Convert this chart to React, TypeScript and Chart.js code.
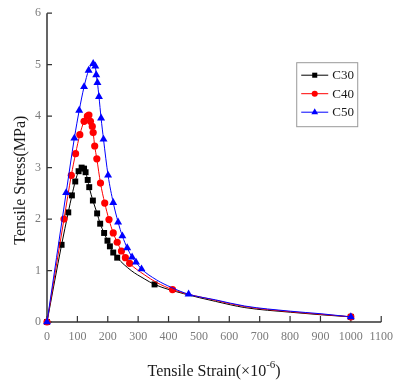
import React, { useEffect, useRef } from "react";
import { Chart, registerables } from "chart.js";

Chart.register(...registerables);

// C30 — marked data points
const c30Strain = [0, 48, 70, 82, 93, 104, 114, 122, 127, 134, 139, 151, 165, 175, 188, 199, 207, 218, 231, 354, 1000];
const c30Stress = [0, 1.5, 2.13, 2.46, 2.73, 2.93, 3.0, 2.98, 2.91, 2.76, 2.62, 2.36, 2.11, 1.91, 1.73, 1.58, 1.47, 1.35, 1.25, 0.73, 0.1];
// C30 — curve points (no marker)
const c30CurveStrain = [277, 320, 450, 555, 651, 801, 902];
const c30CurveStress = [1.0, 0.84, 0.55, 0.4, 0.28, 0.19, 0.14];

// C40
const c40Strain = [0, 56, 80, 94, 108, 122, 133, 138, 143, 149, 152, 157, 164, 176, 190, 204, 218, 231, 245, 258, 272, 413, 1000];
const c40Stress = [0, 2.0, 2.85, 3.27, 3.64, 3.9, 4.0, 4.02, 3.9, 3.8, 3.68, 3.42, 3.17, 2.7, 2.31, 1.99, 1.73, 1.55, 1.38, 1.25, 1.14, 0.63, 0.1];
const c40CurveStrain = [320, 360, 555, 651, 801, 902];
const c40CurveStress = [0.92, 0.77, 0.42, 0.3, 0.2, 0.15];

// C50
const c50Strain = [0, 63, 90, 106, 122, 137, 152, 159, 162, 166, 171, 178, 186, 201, 218, 234, 248, 264, 280, 293, 311, 466, 1000];
const c50Stress = [0, 2.51, 3.57, 4.11, 4.57, 4.89, 5.02, 4.97, 4.8, 4.65, 4.38, 3.96, 3.55, 2.85, 2.32, 1.94, 1.67, 1.44, 1.26, 1.16, 1.03, 0.54, 0.1];
const c50CurveStrain = [360, 410, 555, 651, 801, 902];
const c50CurveStress = [0.82, 0.67, 0.43, 0.31, 0.21, 0.16];

const seriesNames = ["C30", "C40", "C50"];
const seriesColors = ["#000000", "#ff0000", "#0000ff"];
const seriesMarkers = ["rect", "circle", "triangle"];
const markerRadius = [4.2, 3.6, 4.6];

const xTitle = "Tensile Strain(×10";
const xTitleSup = "-6";
const yTitle = "Tensile Stress(MPa)";

function buildPoints(mx: number[], my: number[], cx: number[], cy: number[]) {
  const pts: { x: number; y: number; m: boolean }[] = [];
  mx.forEach((x, i) => pts.push({ x, y: my[i], m: true }));
  cx.forEach((x, i) => pts.push({ x, y: cy[i], m: false }));
  pts.sort((a, b) => a.x - b.x);
  return pts;
}

function drawMarker(ctx: CanvasRenderingContext2D, style: string, x: number, y: number, r: number, color: string) {
  ctx.save();
  ctx.fillStyle = color;
  ctx.beginPath();
  if (style === "rect") {
    const s = Math.SQRT1_2 * r;
    ctx.rect(x - s, y - s, 2 * s, 2 * s);
  } else if (style === "circle") {
    ctx.arc(x, y, r, 0, Math.PI * 2);
  } else {
    ctx.moveTo(x, y - r);
    ctx.lineTo(x + 0.866 * r, y + 0.5 * r);
    ctx.lineTo(x - 0.866 * r, y + 0.5 * r);
    ctx.closePath();
  }
  ctx.fill();
  ctx.restore();
}

const axesPlugin = {
  id: "axesPlugin",
  beforeDatasetsDraw(chart: any) {
    const ctx = chart.ctx as CanvasRenderingContext2D;
    const { left, right, top, bottom } = chart.chartArea;
    const xs = chart.scales.x;
    const ys = chart.scales.y;
    ctx.save();
    ctx.strokeStyle = "#333333";
    ctx.lineWidth = 1.5;
    ctx.beginPath();
    ctx.moveTo(left, top);
    ctx.lineTo(left, bottom);
    ctx.lineTo(right, bottom);
    ctx.stroke();
    ctx.lineWidth = 1.2;
    ctx.beginPath();
    ys.ticks.forEach((t: any) => {
      const py = ys.getPixelForValue(t.value);
      ctx.moveTo(left, py);
      ctx.lineTo(left + 5, py);
    });
    xs.ticks.forEach((t: any) => {
      const px = xs.getPixelForValue(t.value);
      ctx.moveTo(px, bottom);
      ctx.lineTo(px, bottom - 6);
    });
    ctx.stroke();
    ctx.restore();
  },
  afterDraw(chart: any) {
    const ctx = chart.ctx as CanvasRenderingContext2D;
    const { left, right, top, bottom } = chart.chartArea;
    ctx.save();
    // Axis titles
    ctx.fillStyle = "#1a1a1a";
    ctx.font = "16px 'Liberation Serif', serif";
    ctx.textBaseline = "alphabetic";
    const mainW = ctx.measureText(xTitle).width;
    ctx.font = "11px 'Liberation Serif', serif";
    const supW = ctx.measureText(xTitleSup).width;
    ctx.font = "16px 'Liberation Serif', serif";
    const closeW = ctx.measureText(")").width;
    const total = mainW + supW + closeW;
    let tx = (left + right) / 2 - total / 2;
    const ty = bottom + 54;
    ctx.textAlign = "left";
    ctx.fillText(xTitle, tx, ty);
    tx += mainW;
    ctx.font = "11px 'Liberation Serif', serif";
    ctx.fillText(xTitleSup, tx, ty - 8);
    tx += supW;
    ctx.font = "16px 'Liberation Serif', serif";
    ctx.fillText(")", tx, ty);

    ctx.translate(left - 26, top + 167);
    ctx.rotate(-Math.PI / 2);
    ctx.textAlign = "center";
    ctx.textBaseline = "middle";
    ctx.fillText(yTitle, 0, 0);
    ctx.restore();

    // Legend
    ctx.save();
    const bx = right - 85;
    const by = top + 49;
    const bw = 61;
    const bh = 64;
    ctx.fillStyle = "#ffffff";
    ctx.fillRect(bx, by, bw, bh);
    ctx.strokeStyle = "#999999";
    ctx.lineWidth = 1;
    ctx.strokeRect(bx + 0.5, by + 0.5, bw, bh);
    seriesNames.forEach((name: string, i: number) => {
      const ey = by + 13 + i * 18.5;
      ctx.strokeStyle = seriesColors[i];
      ctx.lineWidth = 1;
      ctx.beginPath();
      ctx.moveTo(bx + 5, ey);
      ctx.lineTo(bx + 32, ey);
      ctx.stroke();
      drawMarker(ctx, seriesMarkers[i], bx + 18.5, ey, markerRadius[i] * 0.85, seriesColors[i]);
      ctx.fillStyle = "#1a1a1a";
      ctx.font = "13px 'Liberation Serif', serif";
      ctx.textAlign = "left";
      ctx.textBaseline = "middle";
      ctx.fillText(name, bx + 36, ey + 0.5);
    });
    ctx.restore();
  },
};

export default function App() {
  const canvasRef = useRef<HTMLCanvasElement | null>(null);

  useEffect(() => {
    if (!canvasRef.current) return;
    const all = [
      buildPoints(c30Strain, c30Stress, c30CurveStrain, c30CurveStress),
      buildPoints(c40Strain, c40Stress, c40CurveStrain, c40CurveStress),
      buildPoints(c50Strain, c50Stress, c50CurveStrain, c50CurveStress),
    ];
    const datasets = all.map((pts, i) => ({
      label: seriesNames[i],
      data: pts.map((p) => ({ x: p.x, y: p.y })),
      borderColor: seriesColors[i],
      backgroundColor: seriesColors[i],
      borderWidth: 1,
      pointStyle: seriesMarkers[i],
      pointRadius: pts.map((p) => (p.m ? markerRadius[i] : 0)),
      pointBorderWidth: 0,
      pointHoverRadius: 0,
      cubicInterpolationMode: "monotone" as const,
      tension: 0.4,
      order: 2 - i,
      clip: false as any,
    }));
    const chart = new Chart(canvasRef.current, {
      type: "line",
      data: { datasets },
      options: {
        animation: false,
        responsive: false,
        devicePixelRatio: 1,
        layout: { padding: { top: 9, right: 10, left: 0, bottom: 0 } },
        plugins: { legend: { display: false }, tooltip: { enabled: false } },
        events: [],
        scales: {
          x: {
            type: "linear",
            min: 0,
            max: 1100,
            grid: { display: false, drawTicks: false },
            border: { display: false },
            ticks: {
              stepSize: 100,
              padding: 8,
              color: "#7a7a7a",
              font: { family: "'Liberation Serif', serif", size: 12 },
              maxRotation: 0,
              autoSkip: false,
              callback: (v: any) => String(v),
            },
            afterFit(scale: any) {
              scale.height = 61;
            },
          },
          y: {
            type: "linear",
            min: 0,
            max: 6,
            grid: { display: false, drawTicks: false },
            border: { display: false },
            ticks: {
              stepSize: 1,
              padding: 6,
              color: "#7a7a7a",
              font: { family: "'Liberation Serif', serif", size: 12 },
              callback: (v: any) => String(v),
            },
            afterFit(scale: any) {
              scale.width = 47;
            },
          },
        },
      },
      plugins: [axesPlugin],
    });
    return () => chart.destroy();
  }, []);

  return (
    <div style={{ position: "absolute", left: 0, top: 0, width: 401, height: 383, background: "#fff" }}>
      <canvas ref={canvasRef} width={401} height={383} style={{ display: "block", width: 401, height: 383 }} />
    </div>
  );
}
